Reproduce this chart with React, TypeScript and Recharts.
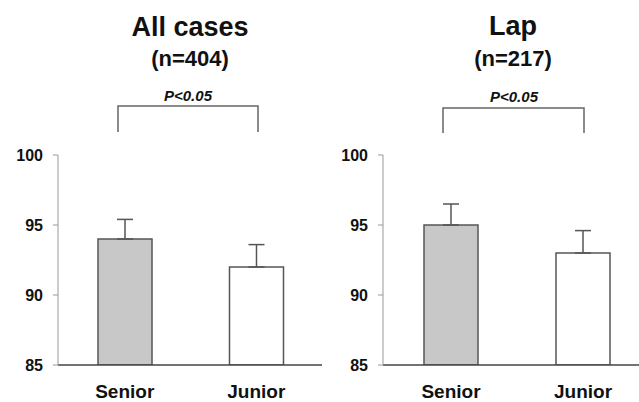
import { BarChart, Bar, XAxis, YAxis, Cell, ErrorBar } from "recharts"

const categories = ["Senior", "Junior"]
const allCasesMeans = [94, 92]
const allCasesErrors = [1.4, 1.6]
const lapMeans = [95, 93]
const lapErrors = [1.5, 1.6]
const yTicks = [85, 90, 95, 100]
const barColors = ["#c8c8c8", "#ffffff"]

const font = "'Liberation Sans', Arial, sans-serif"

function buildRows(means: number[], errors: number[]) {
  return categories.map((name, i) => ({ name, value: means[i], err: [0, errors[i]] }))
}

interface PanelProps {
  left: number
  width: number
  yAxisWidth: number
  padLeft: number
  means: number[]
  errors: number[]
}

function Panel({ left, width, yAxisWidth, padLeft, means, errors }: PanelProps) {
  const data = buildRows(means, errors)
  return (
    <div style={{ position: "absolute", left, top: 0 }}>
      <BarChart width={width} height={402} data={data} margin={{ top: 155, right: 0, bottom: 0, left: 0 }}>
        <XAxis
          dataKey="name"
          height={37}
          padding={{ left: padLeft, right: 0 }}
          tickLine={false}
          tickSize={0}
          tickMargin={20}
          axisLine={{ stroke: "#444", strokeWidth: 1.5 }}
          tick={{ fill: "#111", fontSize: 19, fontWeight: "bold", fontFamily: font }}
        />
        <YAxis
          width={yAxisWidth}
          domain={[85, 100]}
          ticks={yTicks}
          allowDataOverflow
          tickSize={5}
          tickMargin={10}
          axisLine={{ stroke: "#999" }}
          tickLine={{ stroke: "#999" }}
          tick={{ fill: "#111", fontSize: 16, fontWeight: "bold", fontFamily: font }}
        />
        <Bar dataKey="value" barSize={54} stroke="#555" strokeWidth={1.5} isAnimationActive={false}>
          {data.map((d, i) => (
            <Cell key={d.name} fill={barColors[i]} />
          ))}
          <ErrorBar dataKey="err" direction="y" width={8} stroke="#555" strokeWidth={1.5} />
        </Bar>
      </BarChart>
    </div>
  )
}

export default function App() {
  return (
    <div
      style={{
        position: "absolute",
        left: 0,
        top: 0,
        width: 639,
        height: 402,
        overflow: "hidden",
        background: "#fff",
      }}
    >
      <Panel left={0} width={322} yAxisWidth={58} padLeft={1} means={allCasesMeans} errors={allCasesErrors} />
      <Panel left={320} width={329} yAxisWidth={63} padLeft={2} means={lapMeans} errors={lapErrors} />
      <svg width={639} height={150} style={{ position: "absolute", left: 0, top: 0 }}>
        <g fontFamily={font} fontWeight="bold" fill="#111" textAnchor="middle">
          <text x={190} y={36} fontSize={27}>All cases</text>
          <text x={190} y={66} fontSize={22}>(n=404)</text>
          <text x={513} y={35} fontSize={27}>Lap</text>
          <text x={513} y={66} fontSize={22}>(n=217)</text>
          <text x={188} y={101} fontSize={15} fontStyle="italic">P&lt;0.05</text>
          <text x={514} y={102} fontSize={15} fontStyle="italic">P&lt;0.05</text>
        </g>
        <g fill="none" stroke="#666" strokeWidth={1.5}>
          <polyline points="118,132 118,106 258,106 258,132" />
          <polyline points="443,133 443,108 584,108 584,133" />
        </g>
      </svg>
    </div>
  )
}
